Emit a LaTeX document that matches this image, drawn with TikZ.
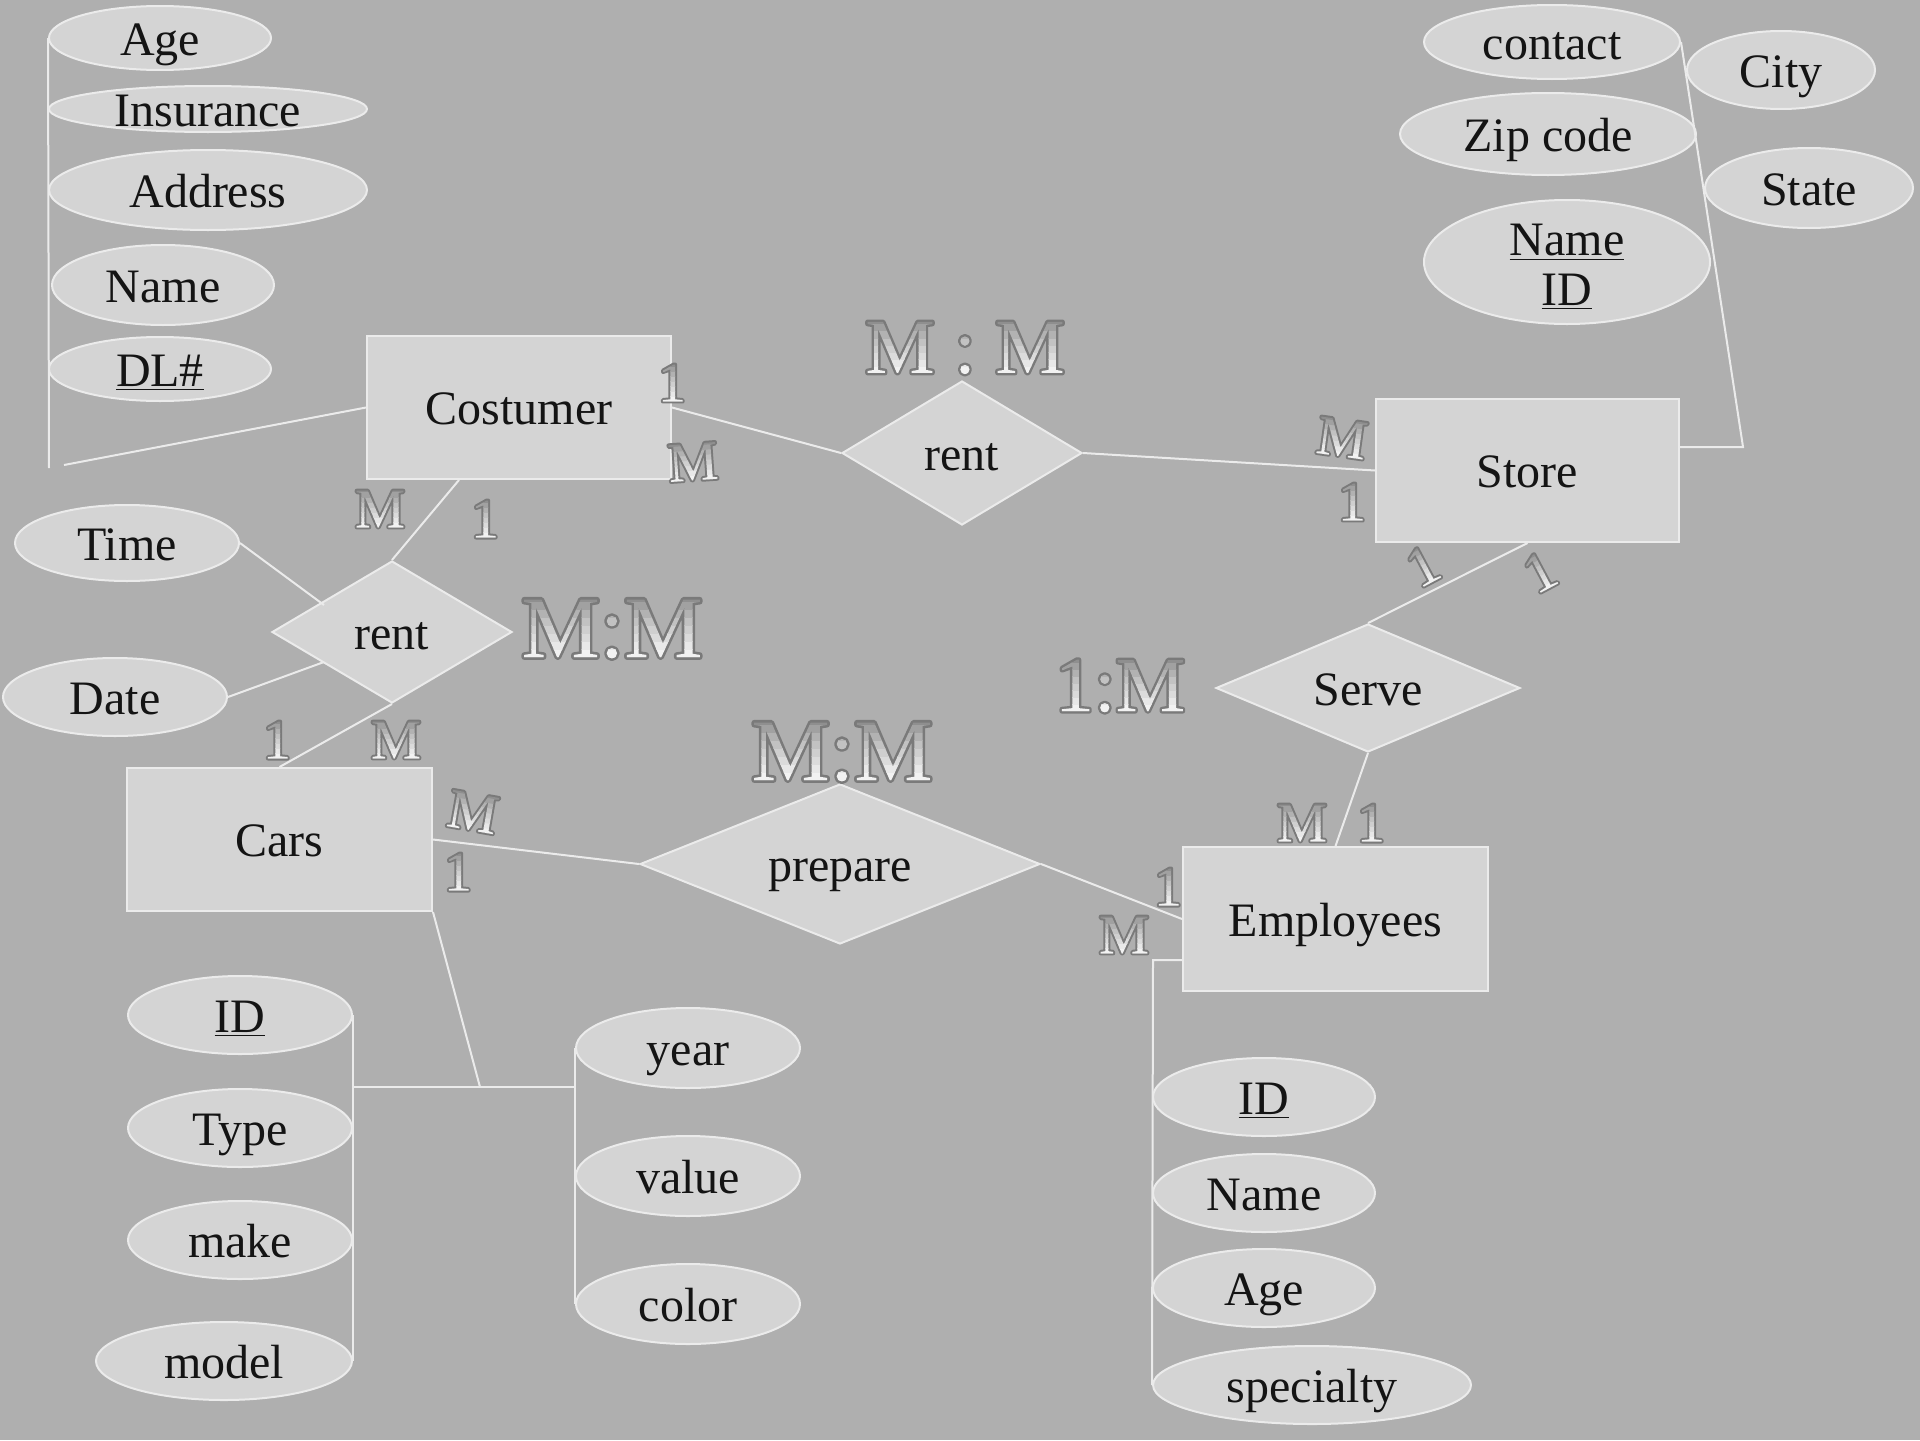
\documentclass[tikz,border=0pt]{standalone}
\usepackage{fontspec}
\setmainfont{Liberation Serif}
\usetikzlibrary{shapes.geometric}

\definecolor{bg}{HTML}{AFAFAF}
\definecolor{shapefill}{HTML}{D4D4D4}
\definecolor{edge}{HTML}{EBEBEB}
\definecolor{ink}{HTML}{141414}
\definecolor{wline}{HTML}{7A7A7A}

% label text centred on the node without enlarging it
\newcommand\ctext[1]{\smash{\raisebox{-0.36em}{#1}}}
% chrome-like cardinality lettering: the glyphs are stroked, then used as a
% clip for a vertical grey ramp (dark at the top, almost white at the foot)
% #1 stroke width (bp), #2 font size (bp), #3 text
\newcommand\wramp{0.97 g -0.2 -0.30 3.4 0.30 re f
  0.95 g -0.2 -0.01 3.4 0.10 re f 0.91 g -0.2 0.08 3.4 0.10 re f
  0.86 g -0.2 0.17 3.4 0.10 re f 0.81 g -0.2 0.26 3.4 0.10 re f
  0.76 g -0.2 0.35 3.4 0.10 re f 0.70 g -0.2 0.44 3.4 0.10 re f
  0.63 g -0.2 0.53 3.4 0.10 re f 0.56 g -0.2 0.62 3.4 0.45 re f}
\newcommand\wart[3][2]{\leavevmode
  \special{pdf:literal direct q}%
  \begingroup\color{wline}%
  \special{pdf:literal direct #1 w 1 j 6 Tr}%
  \rlap{#3}%
  \special{pdf:literal q #2 0 0 #2 0 0 cm \wramp\space Q}%
  \special{pdf:literal direct 0 Tr}%
  \endgroup
  \special{pdf:literal direct Q}%
  \phantom{#3}}

\begin{document}
\begin{tikzpicture}[x=0.5pt,y=-0.5pt,
  lbl/.style={font=\fontsize{24}{28}\selectfont, text=ink},
  wh/.style 2 args={minimum width=#1pt, minimum height=#2pt},
  attr/.style={ellipse, draw=edge, fill=shapefill, line width=1pt, inner sep=0pt, lbl},
  ent/.style={rectangle, draw=edge, fill=shapefill, line width=1pt, inner sep=0pt, lbl},
  rel/.style={diamond, draw=edge, fill=shapefill, line width=1pt, inner sep=0pt, lbl},
  card/.style={inner sep=0pt, font=\fontsize{28}{30}\selectfont},
  midcard/.style={inner sep=0pt, font=\fontsize{39}{42}\selectfont},
  bigcard/.style={inner sep=0pt, font=\fontsize{44}{48}\selectfont},
  link/.style={draw=edge, line width=1pt}]

\useasboundingbox (0,0) rectangle (1920,1440);
\fill[bg] (0,0) rectangle (1920,1440);

% ---------- entities ----------
\node[ent, wh={152}{71.5}] (cost)  at (519,407.5)   {\ctext{Costumer}};
\node[ent, wh={151.5}{71.5}] (store) at (1527.5,470.5) {\ctext{Store}};
\node[ent, wh={152.5}{72}] (emp)   at (1335.5,919)   {\ctext{Employees}};
\node[ent, wh={152.5}{71.5}] (cars)  at (279.5,839.5) {\ctext{Cars}};

% ---------- relationships ----------
\node[rel, wh={120}{72}] (rent1) at (962,453) {\ctext{rent}};
\node[rel, wh={152}{64}] (serve) at (1368,688) {\ctext{Serve}};
\node[rel, wh={200}{80}] (prep)  at (840,864) {\ctext{prepare}};
\node[rel, wh={120}{71}] (rent2) at (392,632) {\ctext{rent}};

% ---------- costumer attributes ----------
\node[attr, wh={111}{32}] (cage)  at (160,38)  {\ctext{Age}};
\node[attr, wh={159}{23}] (cins)  at (208,109) {\ctext{Insurance}};
\node[attr, wh={159}{40}] (cadd)  at (208,190) {\ctext{Address}};
\node[attr, wh={111}{40}] (cname) at (163,285) {\ctext{Name}};
\node[attr, wh={111}{32}] (cdl)   at (160,369) {\ctext{\underline{DL\#}}};

% ---------- store attributes ----------
\node[attr, wh={128}{37}] (scontact) at (1552,42)  {\ctext{contact}};
\node[attr, wh={94}{39}]  (scity)    at (1781,70)  {\ctext{City}};
\node[attr, wh={148}{41}] (szip)     at (1548,134) {\ctext{Zip code}};
\node[attr, wh={104}{40}] (sstate)   at (1809,188) {\ctext{State}};
\node[attr, wh={143}{62}] (snameid)  at (1567,262)
  {\smash{\raisebox{-0.42em}{\begin{tabular}{@{}c@{}}\underline{Name}\\[-3pt]\underline{ID}\end{tabular}}}};

% ---------- rent attributes ----------
\node[attr, wh={112}{38}] (time) at (127,543) {\ctext{Time}};
\node[attr, wh={112}{39}] (date) at (115,697) {\ctext{Date}};

% ---------- cars attributes ----------
\node[attr, wh={112}{39}] (cid)    at (240,1015) {\ctext{\underline{ID}}};
\node[attr, wh={112}{39}] (ctype)  at (240,1128) {\ctext{Type}};
\node[attr, wh={112}{39}] (cmake)  at (240,1240) {\ctext{make}};
\node[attr, wh={128}{39}] (cmodel) at (224,1361) {\ctext{model}};
\node[attr, wh={112}{40}] (cyear)  at (688,1048) {\ctext{year}};
\node[attr, wh={112}{40}] (cvalue) at (688,1176) {\ctext{value}};
\node[attr, wh={112}{40}] (ccolor) at (688,1304) {\ctext{color}};

% ---------- employee attributes ----------
\node[attr, wh={111}{39}] (eid)   at (1264,1097) {\ctext{\underline{ID}}};
\node[attr, wh={111}{39}] (ename) at (1264,1193) {\ctext{Name}};
\node[attr, wh={111}{39}] (eage)  at (1264,1288) {\ctext{Age}};
\node[attr, wh={159}{39}] (espec) at (1312,1385) {\ctext{specialty}};

% ---------- connectors ----------
\coordinate (cdrop) at (49,468);
\draw[link] (cage.west) -- (cdrop);
\coordinate (ctail) at (64,465);
\draw[link] (ctail) -- (cost.west);
\draw[link] (cost.east) -- (rent1.west);
\draw[link] (rent1.east) -- (store.west);
\coordinate (sbend) at (1743,447);
\draw[link] (store.east |- sbend) -- (sbend) -- (scontact.east);
\draw[link] (store.south) -- (serve.north);
\draw[link] (serve.south) -- (emp.north);
\draw[link] (cars.east) -- (prep.west);
\draw[link] (prep.east) -- (emp.west);
\coordinate (ebend) at (1153,960);
\draw[link] (emp.west |- ebend) -- (ebend) -- (espec.west);
\draw[link] ([xshift=-30pt]cost.south) -- (rent2.north);
\draw[link] (rent2.south) -- (cars.north);
\coordinate (tin) at (324,605);
\coordinate (din) at (324,662);
\draw[link] (time.east) -- (tin);
\draw[link] (date.east) -- (din);
\coordinate (cjoin) at (480,1087);
\draw[link] (cars.south east) -- (cjoin);
\draw[link] (cid.east |- cjoin) -- (cyear.west |- cjoin);
\draw[link] (cid.east) -- (cmodel.east);
\draw[link] (cyear.west) -- (ccolor.west);

% ---------- cardinalities ----------
\node[midcard] (mm1) at (965,348) {\wart[2.4]{39}{M : M}};
\node[bigcard] (mm2) at (612,629) {\wart[2.6]{44}{M:M}};
\node[bigcard] (mm3) at (842,752) {\wart[2.6]{44}{M:M}};
\node[midcard] (om1) at (1120,686) {\wart[2.4]{39}{1:M}};

\node[card] (k1)  at (672,383)  {\wart{28}{1}};
\node[card, rotate=4] (k2)  at (693,462)  {\wart{28}{M}};
\node[card, rotate=-8] (k3)  at (1342,438) {\wart{28}{M}};
\node[card] (k4)  at (1352,502) {\wart{28}{1}};
\node[card, rotate=28] (k5)  at (1423,566) {\wart{28}{1}};
\node[card, rotate=28] (k6)  at (1540,572) {\wart{28}{1}};
\node[card] (k7)  at (1302,823) {\wart{28}{M}};
\node[card] (k8)  at (1371,823) {\wart{28}{1}};
\node[card] (k9)  at (1168,887) {\wart{28}{1}};
\node[card] (k10) at (1124,935) {\wart{28}{M}};
\node[card, rotate=-10] (k11) at (473,812) {\wart{28}{M}};
\node[card] (k12) at (458,872)  {\wart{28}{1}};
\node[card] (k13) at (277,740)  {\wart{28}{1}};
\node[card] (k14) at (396,740)  {\wart{28}{M}};
\node[card] (k15) at (380,509)  {\wart{28}{M}};
\node[card] (k16) at (485,519)  {\wart{28}{1}};
\end{tikzpicture}
\end{document}
